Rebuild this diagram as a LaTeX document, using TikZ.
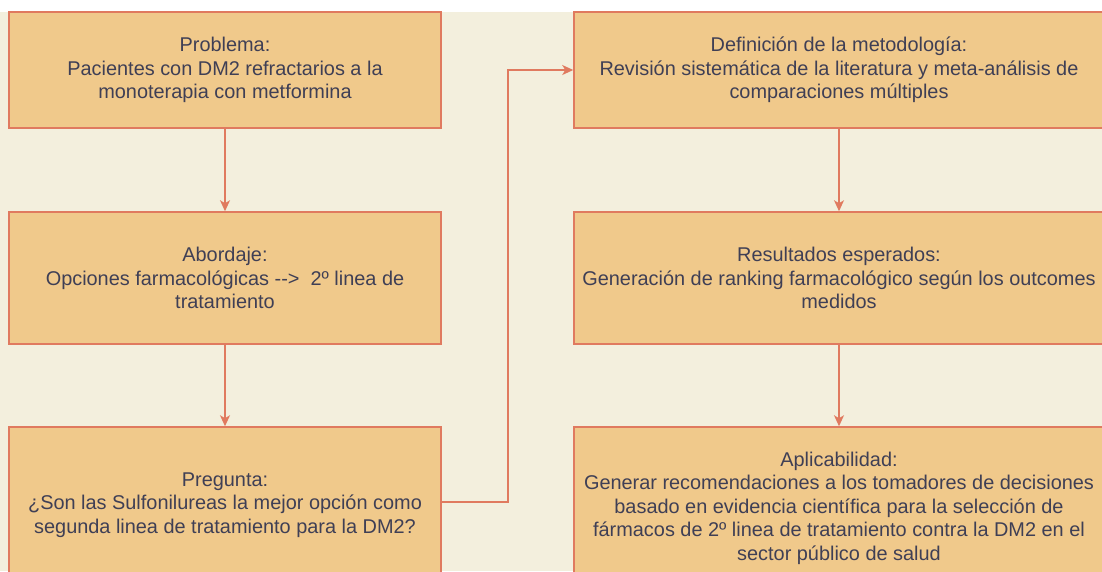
\documentclass[tikz,border=0pt]{standalone}
\usepackage{fontspec}
\setmainfont{Liberation Sans}
\usetikzlibrary{arrows.meta}
\definecolor{bgbeige}{HTML}{F3EFDD}
\definecolor{boxfill}{HTML}{F0C98B}
\definecolor{boxline}{HTML}{E07A5F}
\definecolor{txt}{HTML}{3F3F55}
\tikzset{
  flowbox/.style={draw=boxline, fill=boxfill, line width=1.5pt, rectangle, inner sep=0pt,
    align=center, text=txt, font=\fontsize{19.9}{23.5}\selectfont},
  leftbox/.style={flowbox, minimum width=432pt},
  rightbox/.style={flowbox, minimum width=530pt},
  flowarrow/.style={draw=boxline, line width=1.5pt, -{Stealth[length=11pt,width=10pt,inset=3pt]}}
}
\begin{document}
\begin{tikzpicture}[x=1pt,y=-1pt]
\useasboundingbox (0,0) rectangle (1102,571);
\clip (0,0) rectangle (1102,571);
\fill[white] (0,0) rectangle (1102,12);
\fill[bgbeige] (0,12) rectangle (1102,571);

\node[leftbox, minimum height=116pt] (p1) at (225,70)
  {Problema:\\Pacientes con DM2 refractarios a la\\monoterapia con metformina};
\node[leftbox, minimum height=132pt] (p2) at (225,278)
  {Abordaje:\\Opciones farmacológicas -{}->\ \ 2º linea de\\tratamiento};
\node[leftbox, minimum height=156pt] (p3) at (225,505)
  {Pregunta:\\¿Son las Sulfonilureas la mejor opción como\\segunda linea de tratamiento para la DM2?};

\node[rightbox, minimum height=116pt] (r1) at (839,70)
  {Definición de la metodología:\\Revisión sistemática de la literatura y meta-análisis de\\comparaciones múltiples};
\node[rightbox, minimum height=132pt] (r2) at (839,278)
  {Resultados esperados:\\Generación de ranking farmacológico según los outcomes\\medidos};
\node[rightbox, minimum height=162pt] (r3) at (839,508)
  {Aplicabilidad:\\Generar recomendaciones a los tomadores de decisiones\\basado en evidencia científica para la selección de\\fármacos de 2º linea de tratamiento contra la DM2 en el\\sector público de salud};

\draw[flowarrow] (p1) -- (p2);
\draw[flowarrow] (p2) -- (p3);
\draw[flowarrow] (r1) -- (r2);
\draw[flowarrow] (r2) -- (r3);
\coordinate (bend) at (508,502);
\draw[flowarrow] (p3.east |- bend) -- (bend) |- (r1.west);
\end{tikzpicture}
\end{document}
